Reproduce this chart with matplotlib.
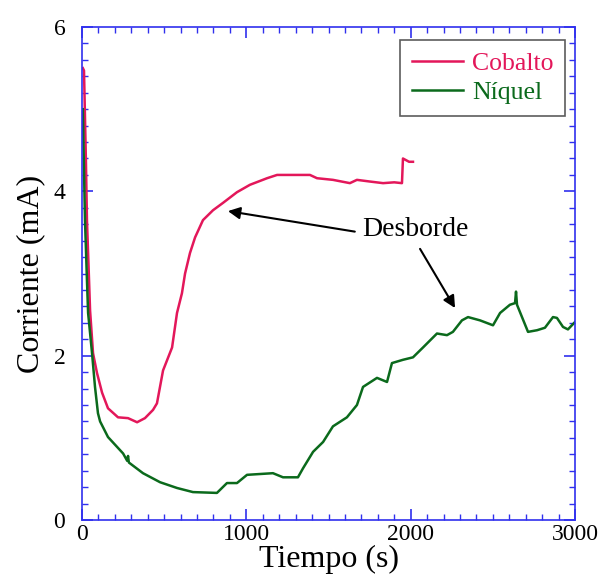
import numpy as np
import matplotlib
matplotlib.use('Agg')
import matplotlib.pyplot as plt
from matplotlib.ticker import MultipleLocator

plt.rcParams['font.family'] = ['Liberation Serif', 'DejaVu Serif']

# ---- data ----
t_co = [5, 12, 24, 30, 37, 49, 67, 91, 122, 158, 219, 280, 335, 383, 432, 456,
        493, 548, 578, 608, 627, 657, 688, 736, 797, 858, 943, 1022, 1126, 1187,
        1300, 1387, 1430, 1527, 1630, 1673, 1750, 1832, 1900, 1947, 1953, 1990, 2014]
i_co = [5.50, 5.47, 4.34, 3.65, 3.25, 2.55, 2.03, 1.79, 1.55, 1.36, 1.25, 1.24, 1.19, 1.24, 1.34, 1.42,
        1.82, 2.10, 2.52, 2.76, 3.00, 3.25, 3.44, 3.65, 3.77, 3.86, 3.99, 4.08, 4.16, 4.20,
        4.20, 4.20, 4.16, 4.14, 4.10, 4.14, 4.12, 4.10, 4.11, 4.10, 4.40, 4.36, 4.36]

t_ni = [5, 12, 18, 30, 37, 61, 79, 97, 110, 158, 250, 275, 280, 285, 371, 475, 578, 675,
        821, 882, 943, 1004, 1083, 1162, 1223, 1314, 1345, 1406, 1467, 1527, 1612, 1673,
        1710, 1795, 1832, 1856, 1886, 1953, 2014, 2075, 2160, 2221, 2257, 2312, 2349,
        2422, 2501, 2544, 2604, 2635, 2641, 2647, 2714, 2769, 2817, 2866, 2890, 2927,
        2957, 3000]
i_ni = [5.00, 4.26, 3.65, 2.92, 2.52, 2.03, 1.62, 1.30, 1.20, 1.01, 0.81, 0.72, 0.78, 0.70, 0.57, 0.46, 0.39, 0.34,
        0.33, 0.45, 0.45, 0.55, 0.56, 0.57, 0.52, 0.52, 0.63, 0.83, 0.95, 1.14, 1.25, 1.40,
        1.62, 1.73, 1.70, 1.68, 1.91, 1.95, 1.98, 2.10, 2.27, 2.25, 2.29, 2.43, 2.47,
        2.43, 2.37, 2.52, 2.62, 2.64, 2.78, 2.62, 2.29, 2.31, 2.34, 2.47, 2.46, 2.35,
        2.32, 2.41]

c_co = '#e3175a'
c_ni = '#0b6a1c'
c_ax = '#3030ee'

fig = plt.figure(figsize=(6.04, 5.8), dpi=100)
ax = fig.add_axes([0.1358, 0.1034, 0.8162, 0.85])

ax.plot(t_co, i_co, color=c_co, lw=1.8, label='Cobalto')
ax.plot(t_ni, i_ni, color=c_ni, lw=1.8, label='Níquel')

ax.set_xlim(0, 3000)
ax.set_ylim(0, 6)
ax.xaxis.set_major_locator(MultipleLocator(1000))
ax.xaxis.set_minor_locator(MultipleLocator(100))
ax.yaxis.set_major_locator(MultipleLocator(2))
ax.yaxis.set_minor_locator(MultipleLocator(0.2))

for s in ax.spines.values():
    s.set_color(c_ax)
    s.set_linewidth(1.2)
ax.tick_params(which='both', direction='in', top=True, right=True, color=c_ax,
               labelsize=17)
ax.tick_params(axis='x', pad=3)
ax.tick_params(axis='y', pad=12)
ax.tick_params(which='major', length=8, width=1.2)
ax.tick_params(which='minor', length=4, width=1.0)

ax.set_xlabel('Tiempo (s)', fontsize=23, labelpad=0)
ax.set_ylabel('Corriente (mA)', fontsize=23, labelpad=6)

leg = ax.legend(loc='upper right', bbox_to_anchor=(0.980, 0.973), fontsize=18.5,
                frameon=True, fancybox=False, handlelength=2.0, handletextpad=0.35,
                borderpad=0.45, labelspacing=0.25, borderaxespad=0)
leg.get_frame().set_edgecolor('#333333')
leg.get_frame().set_linewidth(1.2)
for txt, col in zip(leg.get_texts(), [c_co, c_ni]):
    txt.set_color(col)

arrow = dict(arrowstyle='-|>', color='black', lw=1.5, mutation_scale=18, shrinkA=0, shrinkB=0)
ax.text(2026, 3.53, 'Desborde', fontsize=20, ha='center', va='center')
ax.annotate('', xy=(888, 3.76), xytext=(1660, 3.51), arrowprops=arrow)
ax.annotate('', xy=(2270, 2.58), xytext=(2057, 3.30), arrowprops=arrow)

plt.savefig('out.png', dpi=100)
